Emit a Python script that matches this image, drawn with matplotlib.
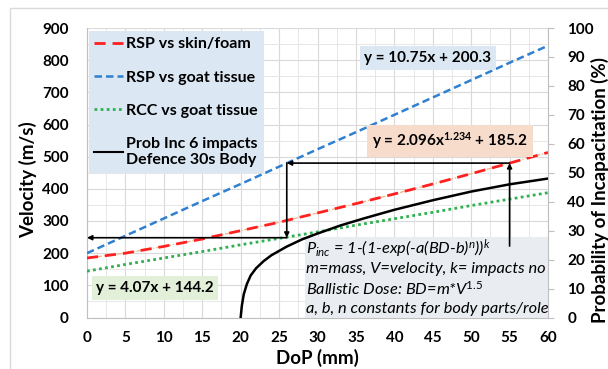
import matplotlib.pyplot as plt
from matplotlib.lines import Line2D
from matplotlib.patches import Rectangle

plt.rcParams['font.family'] = ['Lato', 'DejaVu Sans']
plt.rcParams['mathtext.fontset'] = 'custom'
plt.rcParams['mathtext.rm'] = 'Lato'
plt.rcParams['mathtext.it'] = 'Lato:italic'
plt.rcParams['mathtext.bf'] = 'Lato:bold'

# depth of penetration (mm) and velocity (m/s) for each test series
dop = [0, 5, 10, 15, 20, 25, 30, 35, 40, 45, 50, 55, 60]
rsp_skin = [185, 200, 221, 244, 270, 296, 325, 354, 384, 415, 447, 480, 513]
rsp_goat = [200, 254, 308, 362, 415, 469, 523, 576, 630, 684, 738, 792, 845]
rcc_goat = [144, 165, 185, 205, 226, 246, 266, 287, 307, 327, 348, 368, 388]

# probability of incapacitation (%), 6 impacts, Defence 30s body
prob_dop = [20.0, 20.15, 20.4, 20.8, 21.3, 22.0, 23.0, 24.0, 26.0, 28.0, 30.0,
            33.0, 36.0, 40.0, 45.0, 50.0, 55.0, 60.0]
prob_inc = [0, 4, 8, 11.5, 14.5, 17, 19.5, 21.5, 24.5, 27, 29,
            31.8, 34.2, 37.2, 40.5, 43.5, 46, 48]

W, H = 608, 369
fig = plt.figure(figsize=(W / 100, H / 100), dpi=100)


def px(x, y):
    return x / W, 1 - y / H


# outer chart border (right and bottom edges fall outside the figure)
fig.patches.append(Rectangle(px(10, 380), 1.0, (380 - 8) / H,
                             transform=fig.transFigure, fill=False,
                             ec='#d9d9d9', lw=1, zorder=0))

ax = fig.add_axes([87 / W, 1 - 317.5 / H, 461 / W, 289.5 / H])
ax.set_xlim(0, 60)
ax.set_ylim(0, 900)
ax.set_xticks(range(0, 61, 5))
ax.set_xticks([x + 2.5 for x in range(0, 60, 5)], minor=True)
ax.set_yticks(range(0, 901, 100))
ax.set_yticks(range(50, 900, 100), minor=True)
ax.grid(which='major', color='#d9d9d9', lw=0.8, zorder=0)
ax.grid(which='minor', color='#e6e6e6', lw=0.7, zorder=0)
ax.set_axisbelow(True)
ax.tick_params(which='both', length=0, labelsize=11)
ax.tick_params(axis='y', pad=13)
ax.tick_params(axis='x', pad=10)
for lab in ax.get_xticklabels() + ax.get_yticklabels():
    lab.set_fontweight('bold')
for s in ['top', 'right']:
    ax.spines[s].set_visible(False)
for s in ['left', 'bottom']:
    ax.spines[s].set_color('#bfbfbf')

# formula box
ax.add_patch(Rectangle((28.4, 0), 31.6, 250, fc='#e9ecf0', ec='none', zorder=1))

ax.plot(dop, rsp_skin, color='#f4b183', lw=0.9, ls=(0, (4, 1.5, 1, 1.5)), zorder=2)
ax.plot(dop, rsp_skin, color='#ff2020', lw=2, ls=(0, (4, 2.5)), zorder=3)
ax.plot(dop, rsp_goat, color='#2f80d0', lw=1.8, ls=(0, (3, 1.6)), zorder=3)
ax.plot(dop, rcc_goat, color='#2eb050', lw=2, ls=(0, (1, 1.2)), zorder=3)

# read-off path: 55 mm -> skin/foam -> goat tissue -> velocity
arrow = dict(arrowstyle='-|>', color='black', lw=1.2, mutation_scale=7,
             shrinkA=0, shrinkB=0)
ax.annotate('', xy=(55, 480), xytext=(55, 222), arrowprops=arrow, zorder=5)
ax.annotate('', xy=(26, 480), xytext=(55, 480), arrowprops=arrow, zorder=5)
ax.annotate('', xy=(26, 248), xytext=(26, 480), arrowprops=arrow, zorder=5)
ax.annotate('', xy=(0, 248), xytext=(26, 248), arrowprops=arrow, zorder=5)

ax2 = ax.twinx()
ax2.set_ylim(0, 100)
ax2.set_yticks(range(0, 101, 10))
ax2.plot(prob_dop, prob_inc, color='black', lw=1.8)
ax2.tick_params(axis='y', length=4, color='#bfbfbf', labelsize=11, pad=10)
for lab in ax2.get_yticklabels():
    lab.set_fontweight('bold')
for s in ['top', 'left', 'bottom']:
    ax2.spines[s].set_visible(False)
ax2.spines['right'].set_color('#bfbfbf')

handles = [
    Line2D([], [], color='#ff2020', lw=2, ls=(0, (4, 2.5))),
    Line2D([], [], color='#2f80d0', lw=1.8, ls=(0, (3, 1.6))),
    Line2D([], [], color='#2eb050', lw=2, ls=(0, (1, 1.2))),
    Line2D([], [], color='black', lw=1.5),
]
labels = ['RSP vs skin/foam', 'RSP vs goat tissue', 'RCC vs goat tissue',
          'Prob Inc 6 impacts\nDefence 30s Body']
leg = ax2.legend(handles, labels, loc='upper left', bbox_to_anchor=(0.004, 0.988),
                 frameon=True, fancybox=False, framealpha=1, facecolor='#dbe8f4',
                 edgecolor='none', handlelength=1.8, handletextpad=0.2,
                 labelspacing=1.2, borderpad=0.35, borderaxespad=0,
                 prop={'size': 11.5, 'weight': 'bold'})
leg.set_zorder(10)

eq = dict(fontsize=11, fontweight='bold', ha='center', va='center')
fig.text(*px(428, 58), 'y = 10.75x + 200.3',
         bbox=dict(boxstyle='square,pad=0.3', fc='#dbe8f4', ec='none'), **eq)
fig.text(*px(450, 141), r'y = 2.096x$^{\mathbf{1.234}}$ + 185.2',
         bbox=dict(boxstyle='square,pad=0.35', fc='#f8dccb', ec='none'), **eq)
fig.text(*px(155, 288), 'y = 4.07x + 144.2',
         bbox=dict(boxstyle='square,pad=0.3', fc='#e2efd9', ec='none'), **eq)

formula = [
    r'$P_{inc}$ = 1-(1-exp(-a(BD-b)$^{n}$))$^{k}$',
    'm=mass, V=velocity, k= impacts no',
    r'Ballistic Dose: BD=m*V$^{\mathit{1.5}}$',
    'a, b, n constants for body parts/role',
]
for i, line in enumerate(formula):
    fig.text(*px(306, 249 + 20 * i), line, fontsize=11.8, style='italic',
             ha='left', va='center')

fig.text(*px(28, 180), 'Velocity (m/s)', rotation=90, fontsize=13.5,
         fontweight='bold', ha='center', va='center')
fig.text(*px(317, 358), 'DoP (mm)', fontsize=13.5, fontweight='bold',
         ha='center', va='center')
fig.text(*px(600, 190), 'Probability of Incapacitation (%)', rotation=90,
         fontsize=13.5, fontweight='bold', ha='center', va='center')

fig.savefig('out.png', dpi=100)
